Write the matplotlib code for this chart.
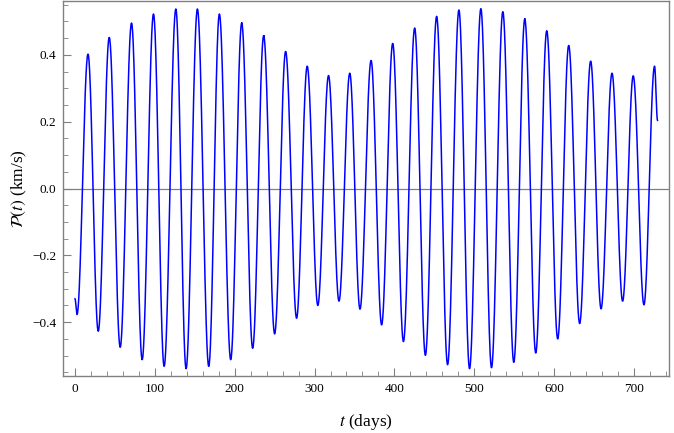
import numpy as np
import matplotlib.pyplot as plt
from matplotlib.ticker import MultipleLocator, FuncFormatter

# Extrema (t in days, value in km/s)
start_t, start_v = 0.0, -0.330
end_t, end_v = 729.5, 0.204

trough_t = [2.5, 29.1, 56.6, 84.1, 111.6, 139.1, 167.5, 195.0, 222.5, 250.0,
            277.5, 304.1, 330.6, 356.9, 384.0, 411.3, 438.8, 466.6, 494.1,
            521.6, 549.5, 577.0, 604.5, 632.0, 658.8, 685.8, 712.5]
trough_v = [-0.377, -0.427, -0.475, -0.512, -0.532, -0.539, -0.532, -0.512,
            -0.478, -0.435, -0.388, -0.350, -0.337, -0.361, -0.408, -0.458,
            -0.499, -0.527, -0.539, -0.536, -0.520, -0.492, -0.450, -0.404,
            -0.360, -0.337, -0.348]

peak_t = [16.3, 42.9, 70.8, 98.3, 126.3, 153.3, 180.8, 208.8, 236.3, 263.8,
          290.8, 317.5, 344.1, 370.8, 397.9, 425.4, 452.9, 480.8, 508.3,
          535.8, 563.3, 590.8, 618.3, 645.8, 672.5, 699.1, 725.8]
peak_v = [0.402, 0.452, 0.495, 0.522, 0.537, 0.537, 0.522, 0.495, 0.457,
          0.410, 0.366, 0.338, 0.345, 0.383, 0.434, 0.480, 0.515, 0.534,
          0.538, 0.529, 0.507, 0.472, 0.428, 0.381, 0.345, 0.337, 0.366]

# knots in time order
knots = sorted(zip([start_t] + trough_t + peak_t + [end_t],
                   [start_v] + trough_v + peak_v + [end_v]))

# smooth half-wave between consecutive knots
t_all, v_all = [], []
for (t0, v0), (t1, v1) in zip(knots[:-1], knots[1:]):
    s = np.linspace(0, 1, 40)
    t_all.extend(t0 + (t1 - t0) * s)
    v_all.extend(v0 + (v1 - v0) * (1 - np.cos(np.pi * s)) / 2)

plt.rcParams['font.family'] = ['Liberation Serif', 'DejaVu Serif']
plt.rcParams['mathtext.fontset'] = 'stix'

fig = plt.figure(figsize=(6.74, 4.33), dpi=100)
ax = fig.add_axes([0.0935, 0.1316, 0.8998, 0.8661])

ax.axhline(0, color='#808080', lw=0.9, zorder=1)
ax.plot(t_all, v_all, color='#0000ff', lw=1.1, zorder=2)

ax.set_xlim(-15, 744.5)
ax.set_ylim(-0.561, 0.561)
ax.xaxis.set_major_locator(MultipleLocator(100))
ax.xaxis.set_minor_locator(MultipleLocator(20))
ax.yaxis.set_major_locator(MultipleLocator(0.2))
ax.yaxis.set_minor_locator(MultipleLocator(0.05))
ax.yaxis.set_major_formatter(FuncFormatter(lambda v, p: f'{v:.1f}'.replace('-', '\u2212')))

for sp in ax.spines.values():
    sp.set_color('#808080')
    sp.set_linewidth(1.0)
ax.tick_params(which='both', direction='in', color='#808080', top=False, right=False,
               labelsize=9.5, labelcolor='black')
ax.tick_params(which='major', length=6, width=0.8, pad=5)
ax.tick_params(which='minor', length=3.5, width=0.6)

ax.set_xlabel(r'$t$ (days)', fontsize=12.5, labelpad=12)
ax.set_ylabel(r'$\mathcal{P}(t)$ (km/s)', fontsize=12.5)
ax.yaxis.set_label_coords(-0.056, 0.5)

fig.savefig('out.png', dpi=100)
